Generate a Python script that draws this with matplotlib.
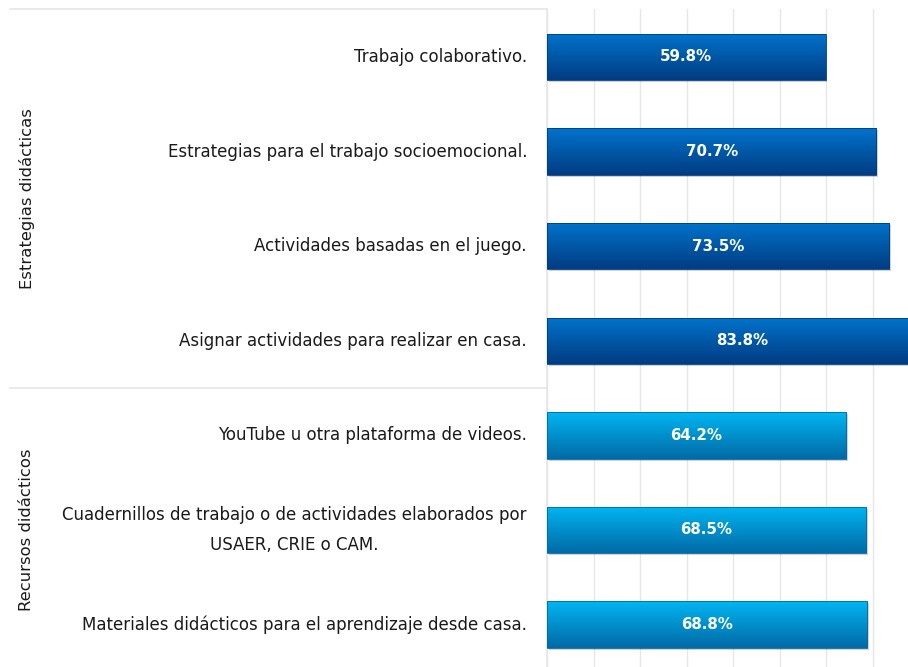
import matplotlib
matplotlib.use("Agg")
import matplotlib.pyplot as plt
import numpy as np
from matplotlib.colors import LinearSegmentedColormap
import matplotlib.patches as mpatches
import matplotlib.transforms as mtransforms

categories = [
    "Trabajo colaborativo.",
    "Estrategias para el trabajo socioemocional.",
    "Actividades basadas en el juego.",
    "Asignar actividades para realizar en casa.",
    "YouTube u otra plataforma de videos.",
    "Cuadernillos de trabajo o de actividades elaborados por\nUSAER, CRIE o CAM.",
    "Materiales didácticos para el aprendizaje desde casa.",
]
values = [59.8, 70.7, 73.5, 83.8, 64.2, 68.5, 68.8]
groups = ["Estrategias didácticas", "Estrategias didácticas", "Estrategias didácticas",
          "Estrategias didácticas", "Recursos didácticos", "Recursos didácticos",
          "Recursos didácticos"]
group_names = ["Estrategias didácticas", "Recursos didácticos"]
group_colors = {
    "Estrategias didácticas": ("#0074cc", "#003c82"),
    "Recursos didácticos": ("#00b6f2", "#006aa6"),
}

W, H = 908, 667
fig = plt.figure(figsize=(W / 100, H / 100), dpi=100)
ax_left = 547 / W
ax_top = 1 - 8.5 / H
ax = fig.add_axes([ax_left, 0, 1 - ax_left, ax_top])

y = np.arange(len(categories))
bars = ax.barh(y, values, height=0.49, color="none", zorder=3)

ax.set_xticks(np.arange(0, 80, 10))
ax.tick_params(left=False, bottom=False, labelbottom=False, labelleft=False)
ax.grid(axis="x", color="#e6e6e6", lw=1.0, zorder=0)
for s in ["top", "right", "bottom"]:
    ax.spines[s].set_visible(False)
ax.spines["left"].set_color("#e6e6e6")
ax.spines["left"].set_linewidth(1.2)

grad = np.linspace(0, 1, 256).reshape(-1, 1)
for bar, g, v in zip(bars, groups, values):
    top_c, bot_c = group_colors[g]
    cmap = LinearSegmentedColormap.from_list("g", [top_c, bot_c])
    x0, y0 = bar.get_x(), bar.get_y()
    w, h = bar.get_width(), bar.get_height()
    shadow = mpatches.Rectangle((x0, y0), w, h, facecolor="#000000", alpha=0.18,
                                edgecolor="none", zorder=2,
                                transform=ax.transData + mtransforms.ScaledTranslation(1.5/100, -2.0/100, fig.dpi_scale_trans))
    ax.add_patch(shadow)
    im = ax.imshow(grad, extent=[x0, x0 + w, y0 + h, y0], aspect="auto",
                   cmap=cmap, zorder=3, interpolation="bicubic")
    im.set_clip_path(bar)
    edge = mpatches.Rectangle((x0, y0), w, h, facecolor="none",
                              edgecolor=bot_c, lw=0.6, zorder=4)
    ax.add_patch(edge)
    ax.text(w / 2, y0 + h / 2, f"{v}%", ha="center", va="center", color="white",
            fontsize=10.8, fontweight="semibold", family="DejaVu Sans", zorder=5)

ax.set_ylim(6.449, -0.512)
ax.set_xlim(0, 77.5)

for yi, lab in zip(y, categories):
    ax.annotate(lab, xy=(0, yi), xycoords=("axes fraction", "data"),
                xytext=(-20, 0), textcoords="offset pixels",
                ha="right", va="center", multialignment="center",
                fontsize=12, color="#1a1a1a", family="DejaVu Sans",
                linespacing=1.9)

line_kw = dict(color="#e6e6e6", lw=1.2, transform=fig.transFigure, clip_on=False)
fig.add_artist(plt.Line2D([10 / W, ax_left], [ax_top, ax_top], **line_kw))
sep_y = ax.transData.transform((0, 3.5))[1] / H
fig.add_artist(plt.Line2D([10 / W, ax_left], [sep_y, sep_y], **line_kw))

for gname in group_names:
    idx = [i for i, g in enumerate(groups) if g == gname]
    mid = (idx[0] + idx[-1]) / 2
    yc = ax.transData.transform((0, mid))[1] / H
    fig.text(27 / W, yc, gname, rotation=90, ha="center", va="center",
             fontsize=11.8, color="#1a1a1a", family="DejaVu Sans")

fig.savefig("out.png", dpi=100, facecolor="white")
